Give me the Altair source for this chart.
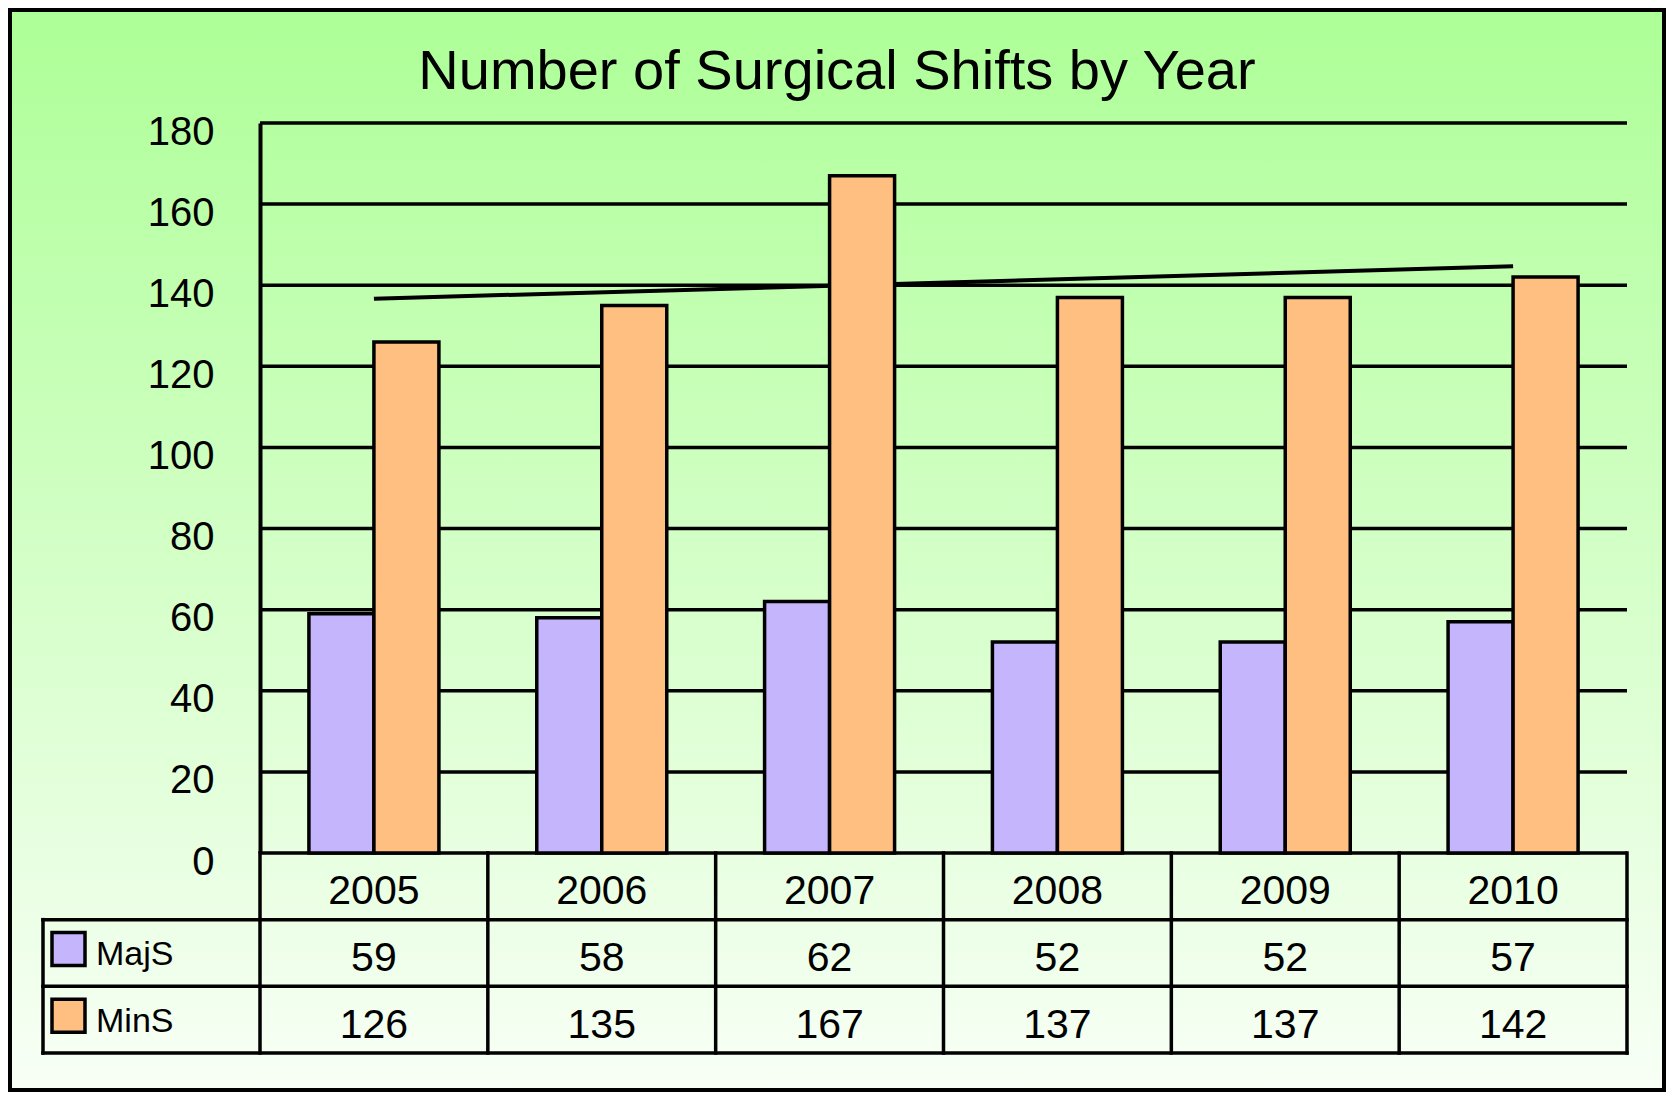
import altair as alt
import pandas as pd

# ---------------- data ----------------
YEARS = ["2005", "2006", "2007", "2008", "2009", "2010"]
MAJS = [59, 58, 62, 52, 52, 57]
MINS = [126, 135, 167, 137, 137, 142]
SERIES = ["MajS", "MinS"]
COLORS = ["#c4b5fd", "#ffbf80"]
Y_TICKS = [0, 20, 40, 60, 80, 100, 120, 140, 160, 180]
ROWS = ["Year", "MajS", "MinS"]
TITLE = "Number of Surgical Shifts by Year"

# ---------------- layout ----------------
W = 1367
H_PLOT = 730
H_TOTAL = 930
FONT = "Liberation Sans"
LW = 3.5

bars_df = pd.DataFrame({
    "year": YEARS * 2,
    "series": ["MajS"] * len(YEARS) + ["MinS"] * len(YEARS),
    "value": MAJS + MINS,
})
table_df = pd.DataFrame({
    "year": YEARS * 3,
    "row": ["Year"] * len(YEARS) + ["MajS"] * len(YEARS) + ["MinS"] * len(YEARS),
    "label": YEARS + [str(v) for v in MAJS] + [str(v) for v in MINS],
})
legend_df = pd.DataFrame({"row": SERIES, "series": SERIES})
ticks_df = pd.DataFrame({"t": Y_TICKS})
years_df = pd.DataFrame({"year": YEARS})
one = pd.DataFrame({"k": [0]})

x_scale = alt.Scale(domain=YEARS, paddingInner=0, paddingOuter=0)
y_scale = alt.Scale(domain=[0, 180], range=[H_PLOT, 0], nice=False, zero=True)
row_scale = alt.Scale(type="band", domain=ROWS, range=[H_PLOT, H_TOTAL],
                      paddingInner=0, paddingOuter=0)
color_scale = alt.Scale(domain=SERIES, range=COLORS)

# background frame with gradient
bg = alt.Chart(one).mark_rect(
    fill=alt.LinearGradient(
        gradient="linear",
        stops=[alt.GradientStop(color="#adff97", offset=0),
               alt.GradientStop(color="#d3ffc6", offset=0.5),
               alt.GradientStop(color="#f8fff6", offset=1)],
        x1=0, x2=0, y1=0, y2=1),
    stroke="black", strokeWidth=4,
).encode(x=alt.value(-250), x2=alt.value(W + 37),
         y=alt.value(-113), y2=alt.value(H_TOTAL + 37))

# gridlines
grid = alt.Chart(ticks_df).mark_rule(color="black", strokeWidth=LW).encode(
    y=alt.Y("t:Q", scale=y_scale, axis=None),
    x=alt.value(0), x2=alt.value(W),
)

# linear trend of MinS
trend = alt.Chart(bars_df).transform_filter(
    "datum.series == 'MinS'"
).transform_calculate(
    i=f"toNumber(datum.year) - {YEARS[0]}"
).transform_regression(
    "i", "value"
).transform_calculate(
    year=f"'' + ({YEARS[0]} + datum.i)"
).mark_line(color="black", strokeWidth=4).encode(
    x=alt.X("year:N", scale=x_scale, axis=None),
    y=alt.Y("value:Q", scale=y_scale, axis=None),
)

y_axis = alt.Axis(values=Y_TICKS, grid=False, ticks=False, domainColor="black",
                  domainWidth=4, labelFont=FONT, labelFontSize=40,
                  labelColor="black", labelPadding=46, labelOffset=9,
                  labelBaseline="middle", title="", zindex=1)


def bar_layer(name, off, axis):
    return alt.Chart(bars_df).transform_filter(
        f"datum.series == '{name}'"
    ).mark_bar(width=65, xOffset=off, stroke="black", strokeWidth=LW).encode(
        x=alt.X("year:N", scale=x_scale, axis=None),
        y=alt.Y("value:Q", scale=y_scale, axis=axis),
        color=alt.Color("series:N", scale=color_scale, legend=None),
    )


bars_maj = bar_layer("MajS", -32.5, y_axis)
bars_min = bar_layer("MinS", 32.5, None)

rule_kw = dict(color="black", strokeWidth=LW, strokeCap="square")

hlines = alt.Chart(legend_df).mark_rule(**rule_kw).encode(
    y=alt.Y("row:N", scale=row_scale, axis=None, bandPosition=0),
    x=alt.value(-217), x2=alt.value(W),
)
hbottom = alt.Chart(pd.DataFrame({"row": [ROWS[-1]]})).mark_rule(**rule_kw).encode(
    y=alt.Y("row:N", scale=row_scale, axis=None, bandPosition=1),
    x=alt.value(-217), x2=alt.value(W),
)
vlines = alt.Chart(years_df).mark_rule(**rule_kw).encode(
    x=alt.X("year:N", scale=x_scale, axis=None, bandPosition=0),
    y=alt.value(H_PLOT), y2=alt.value(H_TOTAL),
)
vright = alt.Chart(pd.DataFrame({"year": [YEARS[-1]]})).mark_rule(**rule_kw).encode(
    x=alt.X("year:N", scale=x_scale, axis=None, bandPosition=1),
    y=alt.value(H_PLOT), y2=alt.value(H_TOTAL),
)
vleft = alt.Chart(one).mark_rule(**rule_kw).encode(
    x=alt.value(-217),
    y=alt.value(H_PLOT + (H_TOTAL - H_PLOT) / 3), y2=alt.value(H_TOTAL),
)

ttext = alt.Chart(table_df).mark_text(
    font=FONT, fontSize=41, color="black", baseline="middle", dy=6
).encode(
    x=alt.X("year:N", scale=x_scale, axis=None),
    y=alt.Y("row:N", scale=row_scale, axis=None),
    text="label:N",
)

swatch = alt.Chart(legend_df).mark_square(
    size=1089, stroke="black", strokeWidth=LW, opacity=1, yOffset=-4
).encode(
    x=alt.value(-191.5),
    y=alt.Y("row:N", scale=row_scale, axis=None),
    color=alt.Color("series:N", scale=color_scale, legend=None),
)
ltext = alt.Chart(legend_df).mark_text(
    font=FONT, fontSize=34, align="left", baseline="middle", dy=2, color="black"
).encode(
    x=alt.value(-164),
    y=alt.Y("row:N", scale=row_scale, axis=None),
    text="series:N",
)

title = alt.Chart(one).mark_text(
    text=TITLE, font=FONT, fontSize=56, align="center",
    baseline="alphabetic", color="black"
).encode(x=alt.value(577), y=alt.value(-34))

chart = alt.layer(
    bg, grid, trend, bars_maj, bars_min,
    hlines, hbottom, vlines, vright, vleft,
    ttext, swatch, ltext, title,
).resolve_scale(y="independent").properties(
    width=W, height=H_TOTAL, padding=0
).configure_view(stroke="transparent")

chart.save("out.html", embed_options={"renderer": "svg", "actions": False})
